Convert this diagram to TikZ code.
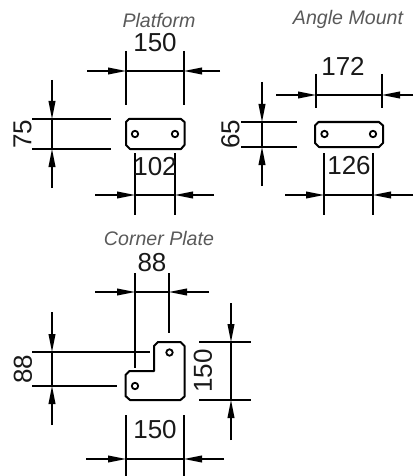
\documentclass[tikz,border=0pt]{standalone}
\usepackage{fontspec}
\setmainfont{Liberation Sans}
\usetikzlibrary{arrows.meta}
\tikzset{
  every picture/.style={x=1pt,y=-1pt},
  ln/.style={line width=2pt,black,line cap=butt},
  part/.style={line width=2pt,black,line join=round},
  hole/.style={line width=1.8pt,black},
  dimarrow/.style={line width=2pt,black,-{Stealth[length=18.5pt,width=6.5pt,inset=0pt]},shorten >=-0.5pt},
  dimtext/.style={inner sep=0pt,font=\fontsize{26}{26}\selectfont,text=black!90},
  title/.style={inner sep=0pt,font=\fontsize{19.6}{20}\selectfont\itshape,text=black!65}
}
\begin{document}
\begin{tikzpicture}
\useasboundingbox (0,0) rectangle (416,476);
% Platform
\node[title] (t1) at (159,20) {Platform};
\draw[part] (129,119) -- (181,119) -- (184.5,122) -- (184.5,145) -- (181,149) -- (130,149) -- (126,145) -- (126,122) -- cycle;
\draw[hole] (135,134) circle (3.2);
\draw[hole] (175,134) circle (3.2);
\draw[ln] (126,51) -- (126,105);
\draw[ln] (184,51) -- (184,105);
\draw[ln] (126,71) -- (184,71);
\draw[dimarrow] (87,71) -- (126,71);
\draw[dimarrow] (220,71) -- (184,71);
\node[dimtext] (d150a) at (155,43) {150};
\draw[ln] (32,119) -- (111,119);
\draw[ln] (32,149) -- (111,149);
\draw[ln] (52,119) -- (52,149);
\draw[dimarrow] (52,80) -- (52,119);
\draw[dimarrow] (52,188) -- (52,149);
\node[dimtext,rotate=90] (d75) at (22.5,134) {75};
\draw[ln] (135,153) -- (135,215);
\draw[ln] (175,153) -- (175,215);
\draw[ln] (135,195) -- (175,195);
\draw[dimarrow] (95,195) -- (135,195);
\draw[dimarrow] (214,195) -- (175,195);
\node[dimtext] (d102) at (155,167) {102};
% Angle Mount
\node[title] (t2) at (348,19) {Angle Mount};
\draw[part] (318.5,122) -- (379,122) -- (383,125.5) -- (383,143) -- (379,147) -- (319,147) -- (315,143) -- (315,125.5) -- cycle;
\draw[hole] (324.5,134) circle (3.2);
\draw[hole] (373,134) circle (3.2);
\draw[ln] (316,74) -- (316,108);
\draw[ln] (382,74) -- (382,108);
\draw[ln] (316,95) -- (382,95);
\draw[dimarrow] (276,95) -- (316,95);
\draw[dimarrow] (413,95) -- (382,95);
\node[dimtext] (d172) at (343,66) {172};
\draw[ln] (241,122) -- (297,122);
\draw[ln] (241,147) -- (297,147);
\draw[ln] (262,122) -- (262,147);
\draw[dimarrow] (262,82) -- (262,122);
\draw[dimarrow] (262,186) -- (262,147);
\node[dimtext,rotate=90] (d65) at (230.5,134) {65};
\draw[ln] (324,153) -- (324,215);
\draw[ln] (373,153) -- (373,215);
\draw[ln] (324,195) -- (373,195);
\draw[dimarrow] (285,195) -- (324,195);
\draw[dimarrow] (413,195) -- (373,195);
\node[dimtext] (d126) at (349,166) {126};
% Corner Plate
\node[title] (t3) at (159,238) {Corner Plate};
\draw[part] (158,342) -- (180.5,342) -- (184.5,346) -- (184.5,396.5) -- (180.5,400) -- (130,400) -- (125.5,396) -- (125.5,375) -- (129.5,371) -- (154,371) -- (154,346) -- cycle;
\draw[hole] (169.5,352.5) circle (3.2);
\draw[hole] (135,386) circle (3.2);
\draw[ln] (135,273) -- (135,368);
\draw[ln] (169,273) -- (169,333);
\draw[ln] (135,292) -- (169,292);
\draw[dimarrow] (95,292) -- (135,292);
\draw[dimarrow] (209,292) -- (169,292);
\node[dimtext] (d88a) at (152,263) {88};
\draw[ln] (32,352) -- (150,352);
\draw[ln] (32,386) -- (117,386);
\draw[ln] (52,352) -- (52,386);
\draw[dimarrow] (52,312) -- (52,352);
\draw[dimarrow] (52,425) -- (52,386);
\node[dimtext,rotate=90] (d88b) at (23,369) {88};
\draw[ln] (199,342) -- (251,342);
\draw[ln] (199,400) -- (251,400);
\draw[ln] (231,342) -- (231,400);
\draw[dimarrow] (231,303) -- (231,342);
\draw[dimarrow] (231,440) -- (231,400);
\node[dimtext,rotate=90] (d150b) at (203,371) {150};
\draw[ln] (126,415) -- (126,476);
\draw[ln] (184,415) -- (184,476);
\draw[ln] (126,459) -- (184,459);
\draw[dimarrow] (86,459) -- (126,459);
\draw[dimarrow] (224,459) -- (184,459);
\node[dimtext] (d150c) at (155,430) {150};
\end{tikzpicture}
\end{document}
